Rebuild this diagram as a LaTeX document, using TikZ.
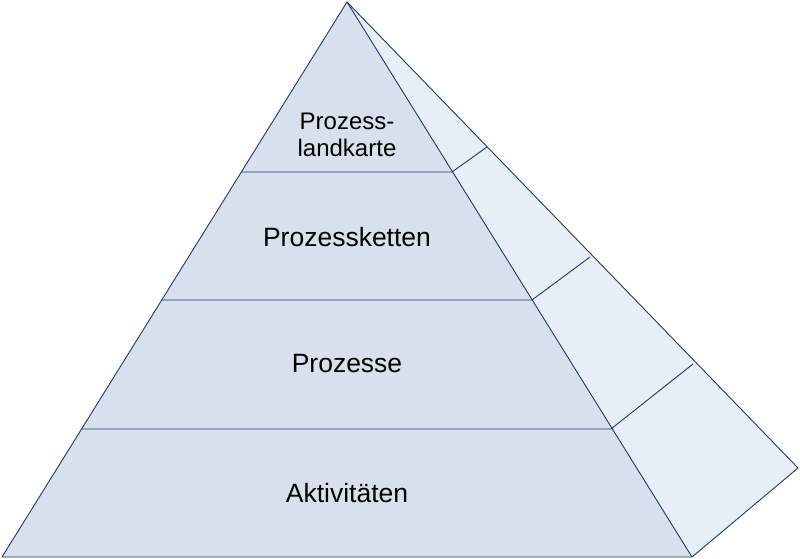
\documentclass[tikz,border=0pt]{standalone}
\usepackage{fontspec}
\setmainfont{Liberation Sans}
\definecolor{edgeblue}{HTML}{1F3A68}
\definecolor{frontfill}{HTML}{D7E0EC}
\definecolor{sidefill}{HTML}{E8EEF6}
\begin{document}
\begin{tikzpicture}[x=1pt,y=-1pt,
    face/.style ={draw=edgeblue, line width=0.9pt, line join=round},
    level_label/.style ={font=\fontsize{26.5}{28}\selectfont, text centered, align=center}]
    \useasboundingbox (0,0) rectangle (800,559);
    % corners of the pyramid
    \coordinate (apex) at (347,2);
    \coordinate (bl) at (2,557);
    \coordinate (br) at (692,557);
    \coordinate (back) at (798,468);
    % faces
    \fill[sidefill] (apex) -- (br) -- (back) -- cycle;
    \fill[frontfill] (apex) -- (bl) -- (br) -- cycle;
    % level borders on the front
    \coordinate (l1) at (241,172);  \coordinate (r1) at (452,172);
    \coordinate (l2) at (161,300);  \coordinate (r2) at (532,300);
    \coordinate (l3) at (81,429);   \coordinate (r3) at (611,429);
    % level borders on the side
    \coordinate (s1) at (487,147);
    \coordinate (s2) at (590,257);
    \coordinate (s3) at (693,364);
    \draw[face] (l1) -- (r1) -- (s1);
    \draw[face] (l2) -- (r2) -- (s2);
    \draw[face] (l3) -- (r3) -- (s3);
    \draw[face] (apex) -- (bl) -- (br) -- (back) -- cycle;
    \draw[face] (apex) -- (br);
    % labels
    \node[level_label, font=\fontsize{24}{27}\selectfont] (landkarte) at (347,135) {Prozess-\\landkarte};
    \node[level_label] (ketten) at (347,237) {Prozessketten};
    \node[level_label] (prozesse) at (347,364) {Prozesse};
    \node[level_label] (aktiv) at (347,493) {Aktivitäten};
\end{tikzpicture}
\end{document}
